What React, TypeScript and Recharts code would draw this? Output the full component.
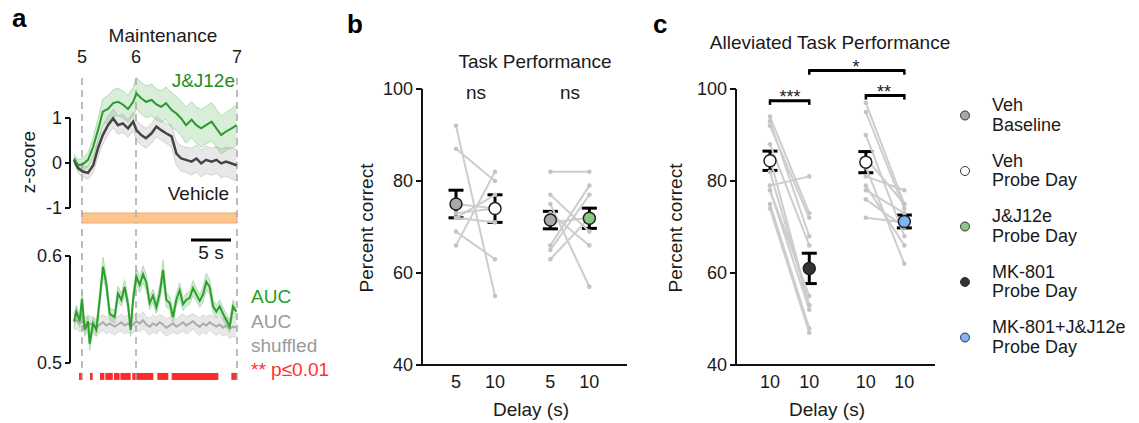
import React from 'react';
import {
  ComposedChart, Line, Area, XAxis, YAxis, ReferenceLine, ReferenceArea, Scatter, ErrorBar,
} from 'recharts';

const FONT = '"Liberation Sans", Arial, Helvetica, sans-serif';

// ---- panel a: z-score traces ----
const traceTime = [0.5, 1.0, 1.6, 2.25, 2.9, 3.5, 4.1, 4.75, 5.4, 6.0, 6.6, 7.25, 7.9, 8.3, 8.9, 9.5, 10.2, 10.8, 11.4, 12.0, 12.7, 13.3, 13.9, 14.5, 15.2, 15.8, 16.4, 17.0, 17.7, 18.3, 18.9, 19.5, 20.2, 20.85];
const jjMean = [0.1, -0.05, -0.03, 0.07, 0.36, 0.73, 1.14, 1.2, 1.33, 1.36, 1.3, 1.2, 1.36, 1.55, 1.44, 1.36, 1.4, 1.3, 1.25, 1.33, 1.18, 1.1, 0.99, 0.84, 0.96, 0.84, 0.77, 0.84, 0.92, 0.77, 0.62, 0.7, 0.77, 0.84];
const jjSem = [0.1, 0.12, 0.14, 0.16, 0.2, 0.25, 0.28, 0.3, 0.3, 0.3, 0.3, 0.3, 0.32, 0.35, 0.35, 0.35, 0.35, 0.35, 0.35, 0.36, 0.38, 0.38, 0.38, 0.4, 0.4, 0.4, 0.42, 0.42, 0.42, 0.42, 0.42, 0.42, 0.44, 0.45];
const vehMean = [0.07, -0.11, -0.19, -0.22, -0.05, 0.33, 0.62, 0.84, 0.99, 0.84, 0.88, 0.77, 0.92, 0.73, 0.62, 0.55, 0.66, 0.81, 0.73, 0.66, 0.59, 0.21, 0.1, 0.07, 0.03, 0.1, -0.01, 0.07, 0.03, 0.07, -0.01, 0.03, -0.01, -0.05];
const vehSem = [0.08, 0.1, 0.12, 0.14, 0.16, 0.18, 0.2, 0.2, 0.2, 0.2, 0.2, 0.2, 0.2, 0.22, 0.22, 0.22, 0.22, 0.22, 0.22, 0.22, 0.24, 0.26, 0.28, 0.28, 0.3, 0.3, 0.3, 0.3, 0.3, 0.3, 0.32, 0.32, 0.34, 0.35];

// ---- panel a: decoding AUC ----
const aucTime = [0.5, 0.79, 1.21, 1.5, 1.83, 2.25, 2.46, 2.88, 3.29, 3.71, 4.13, 4.54, 4.96, 5.58, 6.0, 6.42, 6.83, 7.25, 7.58, 7.88, 8.29, 8.71, 9.13, 9.54, 9.96, 10.38, 10.79, 11.21, 11.63, 12.04, 12.46, 12.88, 13.29, 13.71, 14.13, 14.54, 14.96, 15.38, 15.79, 16.21, 16.63, 17.04, 17.46, 17.88, 18.29, 18.71, 19.13, 19.54, 19.96, 20.38, 20.79];
const aucReal = [0.539, 0.548, 0.539, 0.56, 0.531, 0.539, 0.518, 0.537, 0.531, 0.559, 0.59, 0.574, 0.546, 0.543, 0.565, 0.559, 0.571, 0.555, 0.531, 0.559, 0.581, 0.573, 0.583, 0.575, 0.556, 0.563, 0.552, 0.565, 0.587, 0.559, 0.556, 0.543, 0.559, 0.568, 0.555, 0.559, 0.561, 0.57, 0.564, 0.558, 0.564, 0.576, 0.571, 0.553, 0.548, 0.553, 0.546, 0.54, 0.534, 0.553, 0.548];
const aucRealSem = [0.006, 0.006, 0.006, 0.007, 0.006, 0.006, 0.006, 0.006, 0.006, 0.007, 0.009, 0.007, 0.006, 0.006, 0.007, 0.006, 0.007, 0.006, 0.006, 0.006, 0.008, 0.007, 0.008, 0.007, 0.006, 0.006, 0.006, 0.007, 0.009, 0.007, 0.006, 0.006, 0.006, 0.007, 0.006, 0.006, 0.006, 0.007, 0.006, 0.006, 0.007, 0.008, 0.007, 0.006, 0.006, 0.006, 0.006, 0.006, 0.006, 0.006, 0.006];
const aucShuf = [0.538, 0.54, 0.537, 0.539, 0.536, 0.534, 0.537, 0.535, 0.533, 0.536, 0.538, 0.535, 0.537, 0.534, 0.536, 0.538, 0.535, 0.537, 0.534, 0.536, 0.539, 0.537, 0.54, 0.536, 0.534, 0.537, 0.535, 0.538, 0.536, 0.533, 0.535, 0.537, 0.534, 0.536, 0.538, 0.535, 0.537, 0.539, 0.536, 0.534, 0.537, 0.535, 0.538, 0.536, 0.534, 0.536, 0.533, 0.535, 0.532, 0.534, 0.533];
const aucShufSem = [0.007, 0.008, 0.008, 0.007, 0.008, 0.008, 0.007, 0.008, 0.008, 0.008, 0.007, 0.008, 0.008, 0.008, 0.007, 0.008, 0.008, 0.008, 0.007, 0.008, 0.008, 0.008, 0.008, 0.007, 0.008, 0.008, 0.008, 0.007, 0.008, 0.008, 0.008, 0.008, 0.007, 0.008, 0.008, 0.008, 0.008, 0.007, 0.008, 0.008, 0.008, 0.008, 0.007, 0.008, 0.008, 0.008, 0.008, 0.008, 0.009, 0.009, 0.009];
const sigSpans = [[1.13, 1.54], [2.5, 2.83], [3.75, 4.3], [4.42, 5.35], [5.5, 6.2], [6.3, 7.58], [7.79, 10.42], [10.92, 12.29], [12.71, 18.54], [20.17, 20.875]];

const epochTimes = [1.5, 8.25, 20.875];
const epochLabels = ['5', '6', '7'];
const tEnd = 20.875;

// ---- panel b ----
const bPos = [1, 2, 3.42, 4.42];
const bTicks = ['5', '10', '5', '10'];
const bVehBase = [92, 87, 66, 69, 75, 72, 72, 73];
const bVehProbe = [55, 80, 82, 63, 74, 77, 71, 74];
const bVehBase2 = [82, 77, 75, 73, 66, 65, 63, 71];
const bJJProbe = [82, 69, 57, 66, 79, 77, 72, 72];
const bMeans = [75, 74, 71.5, 71.9];
const bSems = [3.0, 3.0, 1.9, 2.2];
const bFills = ['#a9a9a9', '#ffffff', '#a9a9a9', '#86c986'];

// ---- panel c ----
const cPos = [1, 2, 3.44, 4.42];
const cTicks = ['10', '10', '10', '10'];
const cVehProbe1 = [94, 93, 92, 88, 79, 82, 78, 75, 74, 85, 78];
const cMKProbe = [73, 68, 72, 66, 81, 53, 52, 48, 47, 53, 55];
const cVehProbe2 = [97, 95, 90, 81, 79, 78, 76, 72, 83, 85];
const cComboProbe = [75, 74, 68, 78, 66, 73, 70, 71, 62, 75];
const cMeans = [84.4, 61.0, 84.1, 71.2];
const cSems = [2.1, 3.3, 2.3, 1.4];
const cFills = ['#ffffff', '#333333', '#ffffff', '#7fb2f7'];
const cBrackets = [
  { from: 0, to: 1, y: 97.45 },
  { from: 2, to: 3, y: 98.6 },
  { from: 1, to: 3, y: 104 },
];

const legendItems = [
  { l1: 'Veh', l2: 'Baseline', fill: '#a9a9a9' },
  { l1: 'Veh', l2: 'Probe Day', fill: '#ffffff' },
  { l1: 'J&J12e', l2: 'Probe Day', fill: '#86c986' },
  { l1: 'MK-801', l2: 'Probe Day', fill: '#333333' },
  { l1: 'MK-801+J&J12e', l2: 'Probe Day', fill: '#7fb2f7' },
];

const topRows = traceTime.map((t, i) => ({
  t,
  jj: jjMean[i],
  jjBand: [jjMean[i] - jjSem[i], jjMean[i] + jjSem[i]],
  veh: vehMean[i],
  vehBand: [vehMean[i] - vehSem[i], vehMean[i] + vehSem[i]],
}));

const aucRows = aucTime.map((t, i) => ({
  t,
  real: aucReal[i],
  realBand: [aucReal[i] - aucRealSem[i], aucReal[i] + aucRealSem[i]],
  shuf: aucShuf[i],
  shufBand: [aucShuf[i] - aucShufSem[i], aucShuf[i] + aucShufSem[i]],
}));

const tickStyle = { fontSize: 18, fill: '#1a1a1a' };
const blackLine = { stroke: '#111', strokeWidth: 2 };
const dashed = { stroke: '#a8a8a8', strokeWidth: 1.5, strokeDasharray: '7 5' };

const smallDot = (p: any) => <circle cx={p.cx} cy={p.cy} r={2.3} fill="#c4c4c4" />;
const meanDot = (fill: string) => (p: any) => (
  <circle cx={p.cx} cy={p.cy} r={6} fill={fill} stroke="#222" strokeWidth={1.5} />
);

function TraceTop() {
  return (
    <ComposedChart width={250} height={230} data={topRows} margin={{ top: 53, right: 13, bottom: 7, left: 10 }}>
      <XAxis dataKey="t" type="number" domain={[0, tEnd]} orientation="top" ticks={epochTimes}
        tickFormatter={(v) => epochLabels[epochTimes.indexOf(v)]} axisLine={false} tickLine={false}
        tickSize={6} tickMargin={4} height={20} tick={tickStyle} interval={0} allowDataOverflow />
      <YAxis type="number" domain={[-4 / 3, 2]} ticks={[-1, 0, 1]} width={60} axisLine={false}
        tickLine={blackLine} tickSize={5} tickMargin={3} tick={tickStyle} allowDataOverflow />
      <ReferenceArea x1={1.5} x2={tEnd} y1={-1.333} y2={-1.111} fill="#fbc590" fillOpacity={1} stroke="#f5aa66" strokeWidth={1} ifOverflow="visible" />
      {epochTimes.map((x) => (
        <ReferenceLine key={x} segment={[{ x, y: 1.89 }, { x, y: -4 / 3 }]} {...dashed} ifOverflow="visible" />
      ))}
      <ReferenceLine segment={[{ x: 0, y: -1 }, { x: 0, y: 1 }]} {...blackLine} ifOverflow="visible" />
      <Area dataKey="vehBand" stroke="#c9c9c9" strokeWidth={0.8} fill="#d6d6d6" fillOpacity={0.55} isAnimationActive={false} activeDot={false} />
      <Area dataKey="jjBand" stroke="#9fd49f" strokeWidth={0.8} fill="#2ca02c" fillOpacity={0.18} isAnimationActive={false} activeDot={false} />
      <Line dataKey="veh" stroke="#444" strokeWidth={2.5} dot={false} isAnimationActive={false} />
      <Line dataKey="jj" stroke="#2a9a2a" strokeWidth={2} dot={false} isAnimationActive={false} />
    </ComposedChart>
  );
}

function TraceAuc() {
  return (
    <ComposedChart width={250} height={160} data={aucRows} margin={{ top: 0, right: 13, bottom: 4, left: 10 }}>
      <XAxis dataKey="t" type="number" domain={[0, tEnd]} hide allowDataOverflow />
      <YAxis type="number" domain={[0.48411, 0.62991]} ticks={[0.5, 0.6]} tickFormatter={(v) => v.toFixed(1)}
        width={60} axisLine={false} tickLine={blackLine} tickSize={5} tickMargin={3} tick={tickStyle} allowDataOverflow />
      {epochTimes.map((x) => (
        <ReferenceLine key={x} x={x} {...dashed} />
      ))}
      {sigSpans.map(([a, b]) => (
        <ReferenceArea key={a} x1={a} x2={b} y1={0.4842} y2={0.4907} fill="#ff2b2b" fillOpacity={1} stroke="none" ifOverflow="visible" />
      ))}
      <ReferenceLine segment={[{ x: 0, y: 0.5 }, { x: 0, y: 0.6 }]} {...blackLine} ifOverflow="visible" />
      <ReferenceLine segment={[{ x: 15.125, y: 0.615 }, { x: 20.125, y: 0.615 }]} stroke="#000" strokeWidth={3} />
      <Area dataKey="shufBand" stroke="#d0d0d0" strokeWidth={0.8} fill="#d9d9d9" fillOpacity={0.6} isAnimationActive={false} activeDot={false} />
      <Area dataKey="realBand" stroke="#a6d8a6" strokeWidth={0.8} fill="#2ca02c" fillOpacity={0.22} isAnimationActive={false} activeDot={false} />
      <Line dataKey="shuf" stroke="#ababab" strokeWidth={2} dot={false} isAnimationActive={false} />
      <Line dataKey="real" stroke="#2ca02c" strokeWidth={2} dot={false} isAnimationActive={false} />
    </ComposedChart>
  );
}

type PairedProps = {
  pos: number[];
  ticks: string[];
  domain: [number, number];
  groups: [number[], number[]][];
  means: number[];
  sems: number[];
  fills: string[];
  margin: { top: number; right: number; bottom: number; left: number };
  brackets?: { from: number; to: number; y: number }[];
};

function PairedPanel({ pos, ticks, domain, groups, means, sems, fills, margin, brackets = [] }: PairedProps) {
  return (
    <ComposedChart width={300} height={423} margin={margin}>
      <XAxis dataKey="x" type="number" domain={domain} ticks={pos} interval={0}
        tickFormatter={(v) => ticks[pos.indexOf(v)]} axisLine={blackLine} tickLine={false}
        tickSize={6} tickMargin={4} height={55} tick={tickStyle} allowDataOverflow />
      <YAxis type="number" domain={[40, 100]} ticks={[40, 60, 80, 100]} width={60}
        axisLine={blackLine} tickLine={blackLine} tickSize={6} tickMargin={3} tick={tickStyle} allowDataOverflow />
      {groups.map(([left, right], g) =>
        left.map((v, i) => (
          <Scatter key={`${g}-${i}`} dataKey="y" data={[{ x: pos[g * 2], y: v }, { x: pos[g * 2 + 1], y: right[i] }]}
            line={{ stroke: '#cdcdcd', strokeWidth: 2 }} shape={smallDot} isAnimationActive={false} />
        )),
      )}
      {means.map((m, i) => (
        <Scatter key={`m${i}`} dataKey="y" data={[{ x: pos[i], y: m, e: sems[i] }]} shape={meanDot(fills[i])} isAnimationActive={false}>
          <ErrorBar dataKey="e" direction="y" width={7.5} strokeWidth={3} stroke="#000" />
        </Scatter>
      ))}
      {brackets.map((b, i) => [
        <ReferenceLine key={`h${i}`} segment={[{ x: pos[b.from], y: b.y }, { x: pos[b.to], y: b.y }]} stroke="#000" strokeWidth={3} ifOverflow="visible" />,
        <ReferenceLine key={`l${i}`} segment={[{ x: pos[b.from], y: b.y + 0.3 }, { x: pos[b.from], y: b.y - 0.9 }]} stroke="#000" strokeWidth={2.5} ifOverflow="visible" />,
        <ReferenceLine key={`r${i}`} segment={[{ x: pos[b.to], y: b.y + 0.3 }, { x: pos[b.to], y: b.y - 0.9 }]} stroke="#000" strokeWidth={2.5} ifOverflow="visible" />,
      ])}
    </ComposedChart>
  );
}

const T = (props: any) => <text fontFamily={FONT} fontSize={19} fill="#1a1a1a" {...props} />;

function Overlay() {
  return (
    <svg width={1139} height={423} style={{ position: 'absolute', left: 0, top: 0, pointerEvents: 'none' }}>
      {/* panel a */}
      <T x={12} y={27} fontSize={26} fontWeight="bold" fill="#000">a</T>
      <T x={163} y={42} textAnchor="middle">Maintenance</T>
      <T x={235} y={87} textAnchor="end" fill="#1e8c1e">J&amp;J12e</T>
      <T x={229} y={200} textAnchor="end">Vehicle</T>
      <T transform="translate(35,162) rotate(-90)" textAnchor="middle">z-score</T>
      <T x={211} y={259} textAnchor="middle">5 s</T>
      <T x={251} y={303} fill="#22a022">AUC</T>
      <T x={251} y={328} fill="#9a9a9a">AUC</T>
      <T x={251} y={352} fill="#9a9a9a">shuffled</T>
      <T x={251} y={376} fill="#ff3030">** p≤0.01</T>
      {/* panel b */}
      <T x={347} y={33} fontSize={26} fontWeight="bold" fill="#000">b</T>
      <T x={535} y={68} textAnchor="middle">Task Performance</T>
      <T x={476} y={99} textAnchor="middle">ns</T>
      <T x={570} y={99} textAnchor="middle">ns</T>
      <T transform="translate(373,228) rotate(-90)" textAnchor="middle">Percent correct</T>
      <T x={531} y={416} textAnchor="middle">Delay (s)</T>
      {/* panel c */}
      <T x={653} y={33} fontSize={26} fontWeight="bold" fill="#000">c</T>
      <T x={830} y={49} textAnchor="middle">Alleviated Task Performance</T>
      <T x={790} y={103} textAnchor="middle" fontSize={18}>***</T>
      <T x={884} y={98} textAnchor="middle" fontSize={18}>**</T>
      <T x={856} y={73} textAnchor="middle" fontSize={18}>*</T>
      <T transform="translate(682,228) rotate(-90)" textAnchor="middle">Percent correct</T>
      <T x={827} y={416} textAnchor="middle">Delay (s)</T>
      {/* legend */}
      {legendItems.map((it, i) => (
        <g key={i}>
          <circle cx={965} cy={115.5 + 55.5 * i} r={4.5} fill={it.fill} stroke="#333" strokeWidth={1} />
          <T x={992} y={111 + 55.5 * i} fontSize={18}>{it.l1}</T>
          <T x={992} y={130.5 + 55.5 * i} fontSize={18}>{it.l2}</T>
        </g>
      ))}
    </svg>
  );
}

export default function App() {
  return (
    <div style={{ position: 'absolute', left: 0, top: 0, width: 1139, height: 423, background: '#fff', fontFamily: FONT }}>
      <div style={{ position: 'absolute', left: 0, top: 0 }}>
        <TraceTop />
      </div>
      <div style={{ position: 'absolute', left: 0, top: 224 }}>
        <TraceAuc />
      </div>
      <div style={{ position: 'absolute', left: 340, top: 0 }}>
        <PairedPanel pos={bPos} ticks={bTicks} domain={[0.128, 5.385]}
          groups={[[bVehBase, bVehProbe], [bVehBase2, bJJProbe]]}
          means={bMeans} sems={bSems} fills={bFills}
          margin={{ top: 89, right: 13, bottom: 3, left: 22 }} />
      </div>
      <div style={{ position: 'absolute', left: 640, top: 0 }}>
        <PairedPanel pos={cPos} ticks={cTicks} domain={[0.135, 5.2]}
          groups={[[cVehProbe1, cMKProbe], [cVehProbe2, cComboProbe]]}
          means={cMeans} sems={cSems} fills={cFills} brackets={cBrackets}
          margin={{ top: 89, right: 5, bottom: 3, left: 36 }} />
      </div>
      <Overlay />
    </div>
  );
}
